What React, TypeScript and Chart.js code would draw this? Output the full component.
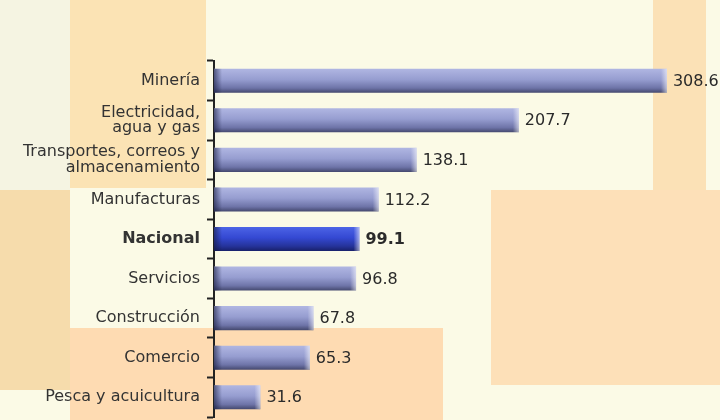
import React, { useEffect, useRef } from "react";
import { Chart, registerables } from "chart.js";

Chart.register(...registerables);

const categories: (string | string[])[] = [
  "Minería",
  ["Electricidad,", "agua y gas"],
  ["Transportes, correos y", "almacenamiento"],
  "Manufacturas",
  "Nacional",
  "Servicios",
  "Construcción",
  "Comercio",
  "Pesca y acuicultura",
];
const values = [308.6, 207.7, 138.1, 112.2, 99.1, 96.8, 67.8, 65.3, 31.6];
const valueLabels = ["308.6", "207.7", "138.1", "112.2", "99.1", "96.8", "67.8", "65.3", "31.6"];
const highlightIndex = 4;

const FONT = "'DejaVu Sans', sans-serif";

const backgroundPlugin = {
  id: "bgPatch",
  beforeDraw(chart: any) {
    const c = chart.ctx;
    const W = chart.width;
    const H = chart.height;
    c.save();
    c.fillStyle = "#fbfae6";
    c.fillRect(0, 0, W, H);
    c.fillStyle = "#f5f4e2";
    c.fillRect(0, 0, 70, 190);
    c.fillStyle = "#fbe3b4";
    c.fillRect(70, 0, 136, 188);
    c.fillStyle = "#fbe1b6";
    c.fillRect(653, 0, 53, 256);
    c.fillStyle = "#f6dcac";
    c.fillRect(0, 190, 70, 200);
    c.fillStyle = "#fde0b8";
    c.fillRect(491, 190, 229, 195);
    c.fillStyle = "#fedbb2";
    c.fillRect(70, 328, 373, 92);
    c.restore();
  },
};

const barDecorPlugin = {
  id: "barDecor",
  afterDatasetsDraw(chart: any) {
    const c = chart.ctx;
    const meta = chart.getDatasetMeta(0);
    c.save();
    meta.data.forEach((bar: any, i: number) => {
      const { x, y, base, height } = bar.getProps(["x", "y", "base", "height"], true);
      const top = y - height / 2;
      const gl = c.createLinearGradient(base, 0, base + 8, 0);
      gl.addColorStop(0, "rgba(20,25,60,0.6)");
      gl.addColorStop(1, "rgba(20,25,60,0)");
      c.fillStyle = gl;
      c.fillRect(base, top, 8, height);
      const gr = c.createLinearGradient(x - 6, 0, x, 0);
      gr.addColorStop(0, "rgba(255,255,255,0)");
      gr.addColorStop(1, "rgba(255,255,255,0.55)");
      c.fillStyle = gr;
      c.fillRect(x - 6, top, 6, height);
      c.fillStyle = "#2a2a2a";
      c.font = (i === highlightIndex ? "bold " : "") + "16px " + FONT;
      c.textAlign = "left";
      c.textBaseline = "middle";
      c.fillText(valueLabels[i], x + 6, y + 1);
    });
    c.restore();
  },
};

function barFill(ctx: any) {
  const chart = ctx.chart;
  const ys = chart.scales && chart.scales.y;
  if (!chart.chartArea || !ys || ctx.dataIndex === undefined) return "#959ccf";
  const center = ys.getPixelForValue(ctx.dataIndex);
  const half = 12;
  const g = chart.ctx.createLinearGradient(0, center - half, 0, center + half);
  if (ctx.dataIndex === highlightIndex) {
    g.addColorStop(0, "#4c64e6");
    g.addColorStop(0.45, "#3448d2");
    g.addColorStop(0.8, "#25339a");
    g.addColorStop(1, "#18206a");
  } else {
    g.addColorStop(0, "#b0b6e2");
    g.addColorStop(0.45, "#969dd0");
    g.addColorStop(0.8, "#6e74a8");
    g.addColorStop(1, "#44486e");
  }
  return g;
}

export default function App() {
  const ref = useRef<HTMLCanvasElement | null>(null);
  useEffect(() => {
    if (!ref.current) return;
    const chart = new Chart(ref.current, {
      type: "bar",
      data: {
        labels: categories,
        datasets: [
          {
            data: values,
            backgroundColor: barFill,
            borderWidth: 0,
            barPercentage: 0.8,
            categoryPercentage: 0.76,
          },
        ],
      },
      options: {
        indexAxis: "y",
        animation: false,
        responsive: false,
        maintainAspectRatio: false,
        layout: { padding: { top: 61, bottom: 3, right: 7, left: 0 } },
        plugins: { legend: { display: false }, tooltip: { enabled: false } },
        scales: {
          x: { display: false, min: 0, max: 340 },
          y: {
            afterFit: (scale: any) => {
              scale.width = 214;
              scale.paddingTop = 0;
              scale.paddingBottom = 0;
            },
            border: { display: true, color: "#222", width: 2 },
            grid: {
              display: true,
              drawOnChartArea: false,
              drawTicks: true,
              tickLength: 7,
              tickWidth: 2,
              tickColor: "#222",
              offset: true,
            },
            ticks: {
              padding: 7,
              color: "#333",
              font: (ctx: any) => ({
                family: FONT,
                size: 16,
                lineHeight: 0.95,
                weight: ctx.index === highlightIndex ? "bold" : "normal",
              }),
            },
          },
        },
      },
      plugins: [backgroundPlugin, barDecorPlugin],
    });
    return () => chart.destroy();
  }, []);
  return (
    <div style={{ position: "fixed", left: 0, top: 0, width: 720, height: 420 }}>
      <canvas ref={ref} width={720} height={420} style={{ display: "block" }} />
    </div>
  );
}
